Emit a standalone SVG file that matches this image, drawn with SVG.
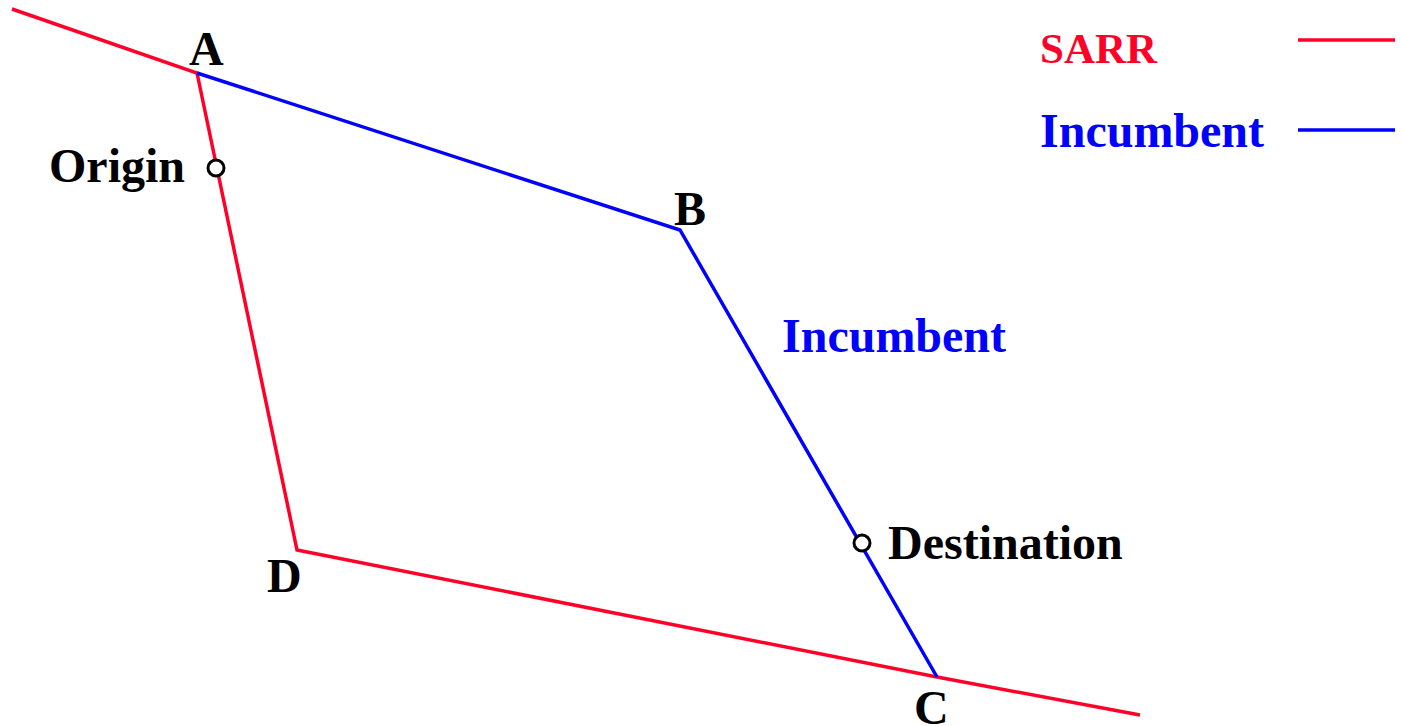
<svg xmlns="http://www.w3.org/2000/svg" width="1401" height="726" viewBox="0 0 1401 726">
<style>
.t{font-family:"Liberation Serif","Times New Roman",serif;font-weight:bold;font-size:48px;fill:#000}
.red{stroke:#ff0029;stroke-width:3.5;fill:none}
.blue{stroke:#0000ff;stroke-width:3.5;fill:none}
.pt{fill:#fff;stroke:#000;stroke-width:3}
</style>
<rect width="1401" height="726" fill="#fff"/>
<g id="connectors">
<polyline class="red" points="12,9 197,73 297,550 937,677 1140,715"/>
<polyline class="blue" points="197,73 680,230 937,677"/>
</g>
<g id="legend">
<text class="t" x="1040" y="63" style="fill:#ff0029;font-size:43px">SARR</text>
<line class="red" x1="1298" y1="40" x2="1395" y2="40"/>
<text class="t" x="1040" y="147" style="fill:#0000ff">Incumbent</text>
<line class="blue" x1="1298" y1="130" x2="1395" y2="130"/>
</g>
<g id="A"><text class="t" x="189" y="65">A</text></g>
<g id="B"><text class="t" x="674" y="225">B</text></g>
<g id="C"><text class="t" x="914" y="724">C</text></g>
<g id="D"><text class="t" x="267" y="592">D</text></g>
<g id="origin"><circle class="pt" cx="216" cy="168" r="8"/><text class="t" x="49" y="182">Origin</text></g>
<g id="destination"><circle class="pt" cx="862" cy="543" r="8"/><text class="t" x="888" y="559">Destination</text></g>
<g id="incumbent-label"><text class="t" x="782" y="352" style="fill:#0000ff">Incumbent</text></g>
</svg>
